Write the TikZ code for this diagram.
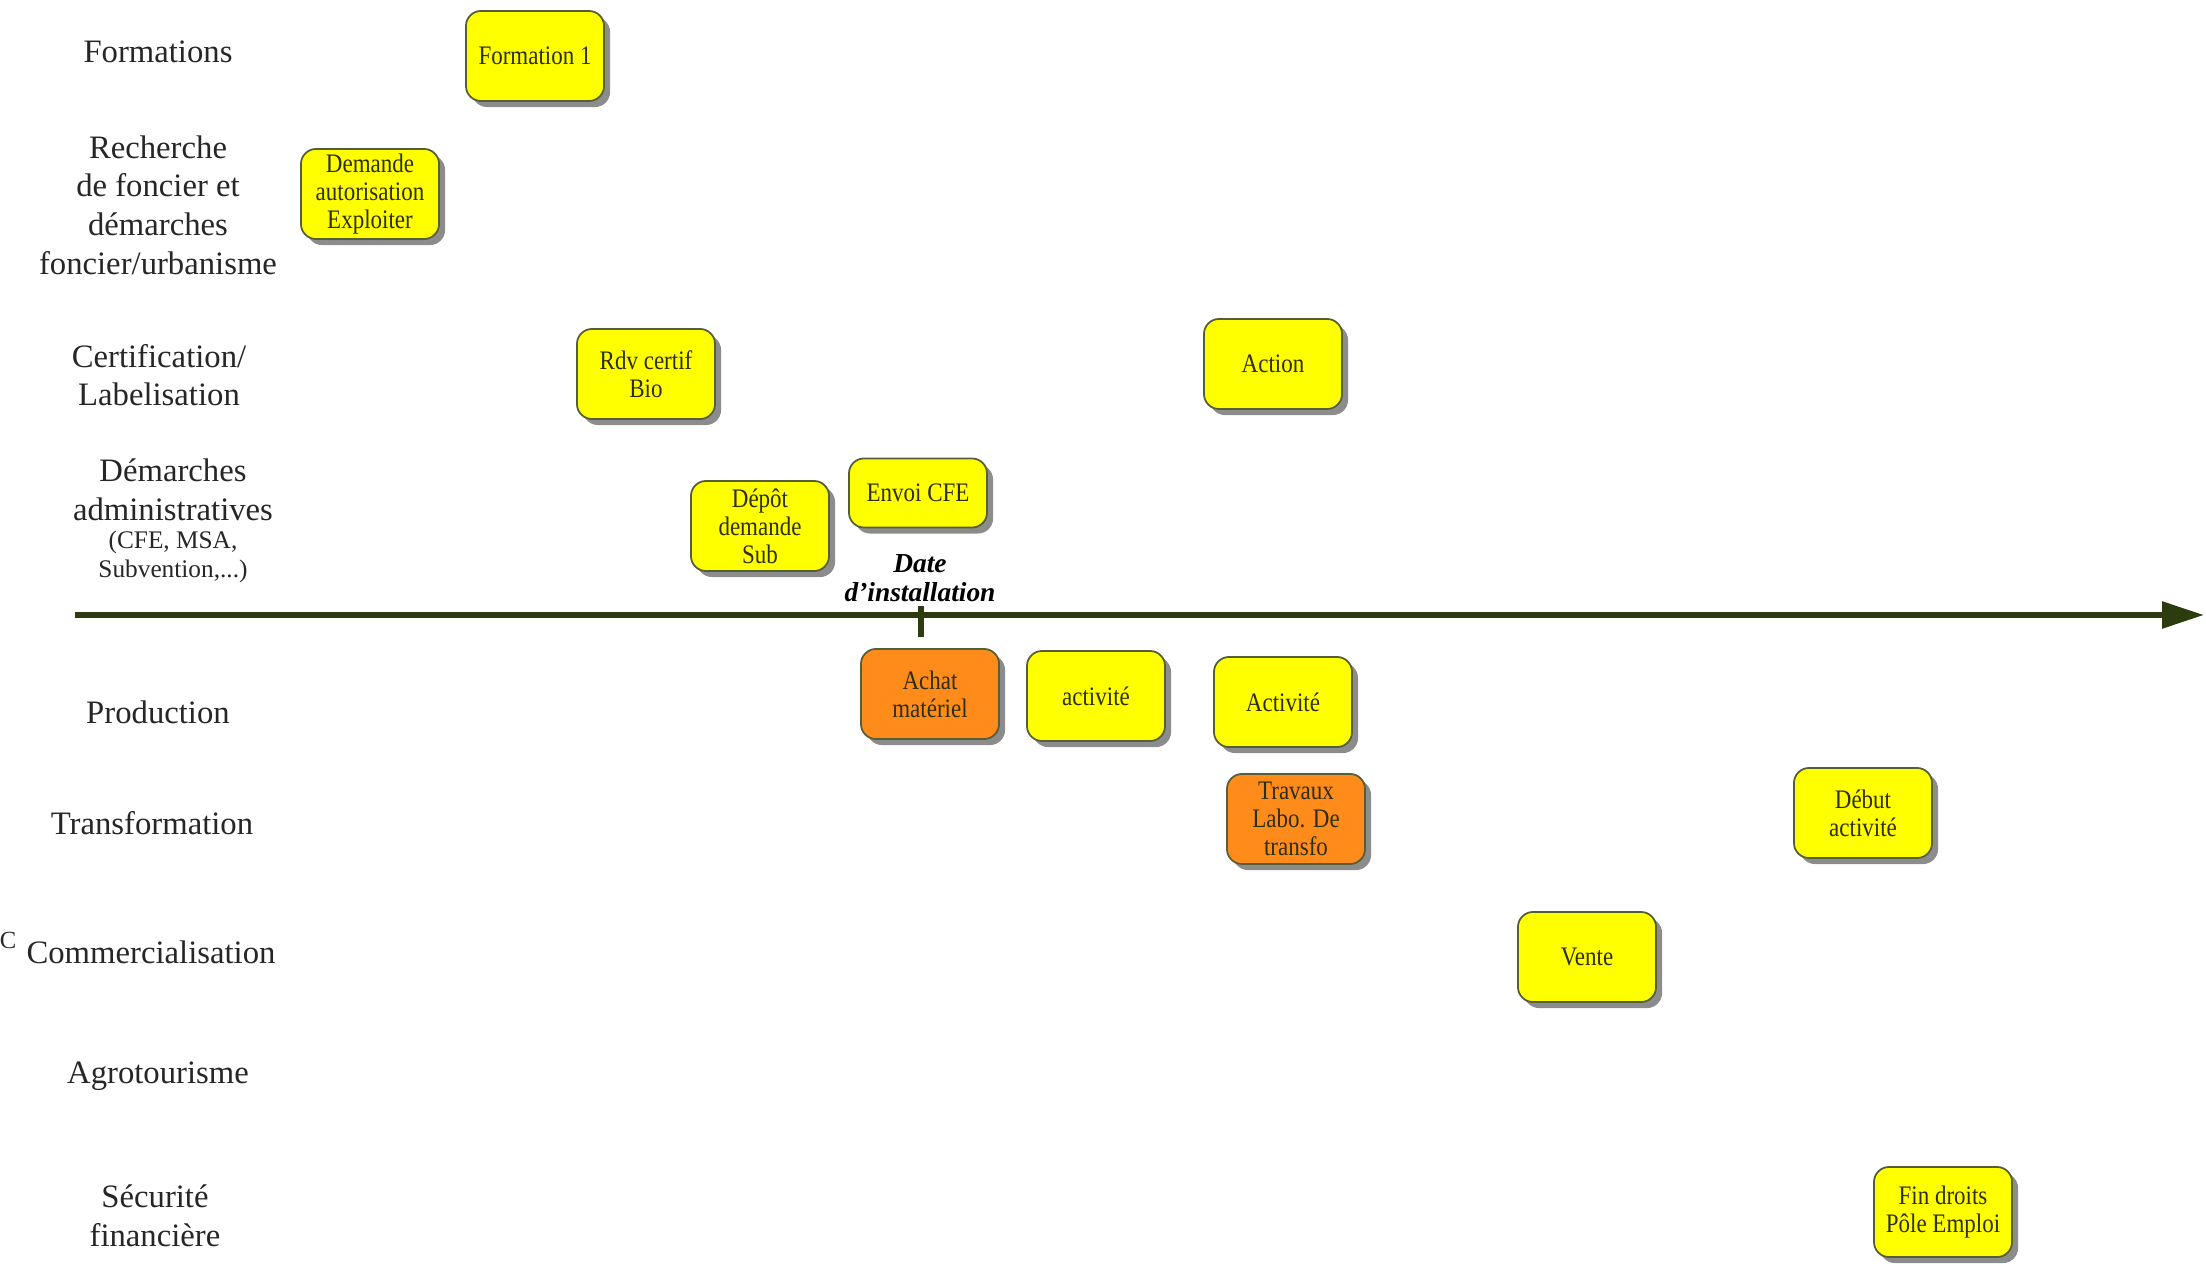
\documentclass[tikz,border=0pt]{standalone}
\usepackage{fontspec}
\setmainfont{Liberation Serif}
\newfontfamily\boitefont[FakeStretch=0.86]{Liberation Serif}
\usetikzlibrary{shadows,arrows.meta}
\definecolor{jaune}{RGB}{255,255,0}
\definecolor{orangeboite}{RGB}{255,140,26}
\definecolor{axe}{RGB}{45,60,15}
\definecolor{bord}{RGB}{85,95,55}
\definecolor{texteboite}{RGB}{45,45,10}

\begin{document}
\begin{tikzpicture}[x=0.01cm,y=-0.01cm,
  theme/.style={align=center,font=\fontsize{9.3}{11}\selectfont,text=black!85},
  etape/.style={draw=bord,line width=0.5pt,fill=jaune,rounded corners=1.5mm,
    align=center,minimum width=1.38cm,minimum height=0.9cm,inner sep=1pt,
    font=\boitefont\fontsize{7.6}{8}\selectfont,text=texteboite,
    drop shadow={shadow xshift=0.6mm,shadow yshift=-0.6mm,fill=black!45,opacity=1}},
  urgent/.style={etape,fill=orangeboite}]
\useasboundingbox (0,0) rectangle (2206,1264);
% themes
\node[theme] (formations) at (158,52) {Formations};
\node[theme] (foncier) at (158,205) {Recherche\\de foncier et\\démarches\\foncier/urbanisme};
\node[theme] (certif) at (159,375) {Certification/\\Labelisation};
\node[theme] (admin) at (173,490) {Démarches\\administratives};
\node[theme,font=\fontsize{7.2}{8.4}\selectfont] (admindetail) at (173,557) {(CFE, MSA,\\Subvention,...)};
\node[theme] (production) at (158,712) {Production};
\node[theme] (transfo) at (152,823) {Transformation};
\node[theme,font=\fontsize{7}{8}\selectfont] (reste) at (8,940) {C};
\node[theme] (commerce) at (151,952) {Commercialisation};
\node[theme] (agro) at (158,1076) {Agrotourisme};
\node[theme] (securite) at (155,1216) {Sécurité\\financière};
% etapes
\node[etape] (formation1) at (535,56) {Formation 1};
\node[etape] (autorisation) at (370,194) {Demande\\autorisation\\Exploiter};
\node[etape] (rdvbio) at (646,374) {Rdv certif\\Bio};
\node[etape] (action) at (1273,364) {Action};
\node[etape] (depot) at (760,526) {Dépôt\\demande\\Sub};
\node[etape,minimum height=0.69cm] (cfe) at (918,493) {Envoi CFE};
\node[urgent] (achat) at (930,694) {Achat\\matériel};
\node[etape] (activite1) at (1096,696) {activité};
\node[etape] (activite2) at (1283,702) {Activité};
\node[urgent] (travaux) at (1296,819) {Travaux\\Labo. De\\transfo};
\node[etape] (debut) at (1863,813) {Début\\activité};
\node[etape] (vente) at (1587,957) {Vente};
\node[etape] (findroits) at (1943,1212) {Fin droits\\Pôle Emploi};
% axe du temps
\node[align=center,font=\bfseries\itshape\fontsize{7.8}{8.4}\selectfont] (date) at (920,578) {Date\\d’installation};
\coordinate (origine) at (75,615);
\coordinate (fin) at (2204,615);
\coordinate (t1) at (921,606);
\coordinate (t2) at (921,637);
\draw[axe,line width=1.6pt,-{Triangle[length=4.2mm,width=2.6mm]}] (origine) -- (fin);
\draw[axe,line width=1.8pt] (t1) -- (t2);
\end{tikzpicture}
\end{document}
